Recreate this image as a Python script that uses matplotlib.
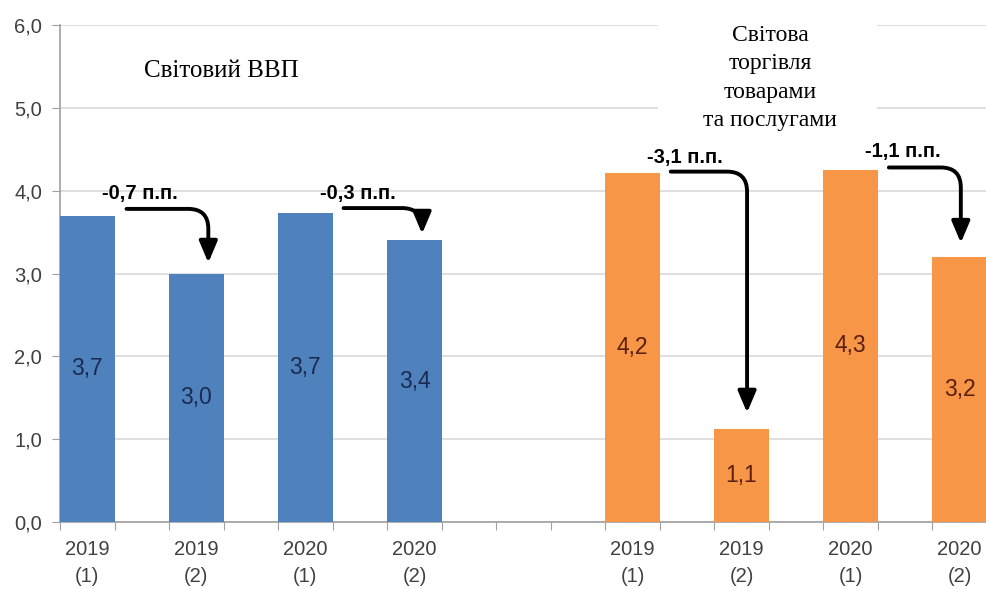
import matplotlib
matplotlib.use("Agg")
import matplotlib.pyplot as plt
from matplotlib.patches import FancyArrowPatch, Rectangle

# Data
categories = ["2019\n(1)", "2019\n(2)", "2020\n(1)", "2020\n(2)"]
gdp_values = [3.7, 3.0, 3.73, 3.4]
gdp_labels = ["3,7", "3,0", "3,7", "3,4"]
trade_values = [4.21, 1.12, 4.25, 3.2]
trade_labels = ["4,2", "1,1", "4,3", "3,2"]
gdp_changes = ["-0,7 п.п.", "-0,3 п.п."]
trade_changes = ["-3,1 п.п.", "-1,1 п.п."]
title_gdp = "Світовий ВВП"
title_trade = "Світова\nторгівля\nтоварами\nта послугами"
yticks = [0, 1, 2, 3, 4, 5, 6]

gdp_x = [0, 1, 2, 3]
trade_x = [5, 6, 7, 8]

blue = "#4f81bd"
orange = "#f79646"
sans = ["Liberation Sans", "DejaVu Sans"]
serif = ["Liberation Serif", "DejaVu Serif"]

fig = plt.figure(figsize=(9.87, 5.89), dpi=100)
ax = fig.add_axes([60/987, (589-522)/589, 1 - 60/987, (522-25)/589])

ax.set_xlim(-0.25, 8.2)
ax.set_ylim(0, 6)

ax.bar(gdp_x, gdp_values, width=0.5, color=blue, zorder=3)
ax.bar(trade_x, trade_values, width=0.5, color=orange, zorder=3)

for x, v, l in zip(gdp_x, gdp_values, gdp_labels):
    ax.text(x, v / 2, l, ha="center", va="center", fontsize=16.5, color="#1a2a50",
            family=sans, zorder=4)
for x, v, l in zip(trade_x, trade_values, trade_labels):
    ax.text(x, v / 2, l, ha="center", va="center", fontsize=16.5, color="#5c1f10",
            family=sans, zorder=4)

# Grid and axes
ax.set_yticks(yticks)
ax.set_yticklabels([f"{t:.1f}".replace(".", ",") for t in yticks], fontsize=14.5,
                   color="#404040", family=sans)
ax.yaxis.grid(True, color="#d9d9d9", linewidth=1.2, zorder=0)
ax.set_axisbelow(True)
ax.tick_params(axis="y", length=6, color="#a0a0a0", pad=7)

tick_pos = [-0.25 + 0.5 * k for k in range(18)]
ax.set_xticks(tick_pos)
ax.set_xticklabels([""] * len(tick_pos))
ax.tick_params(axis="x", length=6, color="#a0a0a0")
for x, c in zip(gdp_x + trade_x, categories + categories):
    ax.text(x, -0.22, c, ha="center", va="top", fontsize=14.5, color="#404040",
            family=sans, linespacing=1.5, clip_on=False)

for s in ["top", "right"]:
    ax.spines[s].set_visible(False)
for s in ["left", "bottom"]:
    ax.spines[s].set_color("#a0a0a0")
    ax.spines[s].set_linewidth(1.2)

# White box behind trade title
ax.add_patch(Rectangle((5.23, 4.55), 2.01, 1.6, facecolor="white", edgecolor="none",
                       zorder=2, clip_on=False))

# Titles
ax.text(1.23, 5.45, title_gdp, ha="center", va="center", fontsize=18,
        family=serif, color="black", zorder=5)
ax.text(6.26, 5.36, title_trade, ha="center", va="center", fontsize=17,
        family=serif, color="black", linespacing=1.45, zorder=5)

# Change annotations
changes = gdp_changes + trade_changes
text_pos = [(0.48, 3.97), (2.48, 3.97), (5.48, 4.40), (7.48, 4.47)]
starts = [(0.36, 3.78), (2.35, 3.79), (5.35, 4.23), (7.35, 4.28)]
ends = [(1.11, 3.13), (3.07, 3.48), (6.05, 1.32), (8.01, 3.37)]
for t, tp, s, e in zip(changes, text_pos, starts, ends):
    ax.text(tp[0], tp[1], t, ha="center", va="center", fontsize=14.5,
            fontweight="bold", family=sans, color="black", zorder=6)
    arr = FancyArrowPatch(s, e, connectionstyle="angle,angleA=0,angleB=90,rad=20",
                          arrowstyle="-|>,head_length=13,head_width=5.5",
                          color="black", linewidth=2.8, zorder=6,
                          shrinkA=0, shrinkB=0, mutation_scale=1)
    ax.add_patch(arr)

fig.savefig("out.png", dpi=100)
